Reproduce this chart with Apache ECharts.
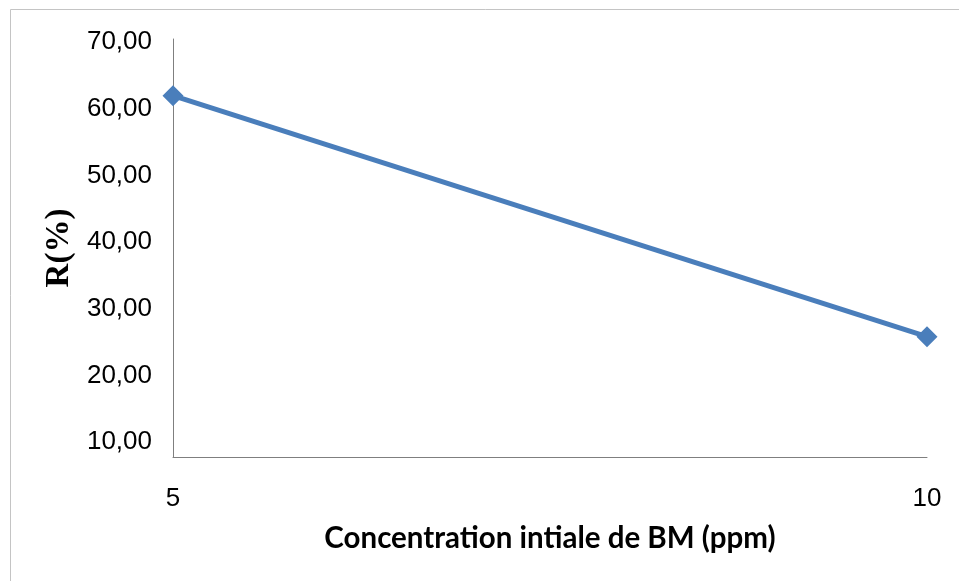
<!DOCTYPE html>
<html>
<head>
<meta charset="utf-8">
<title>R(%) vs Concentration initiale de BM</title>
<script src="https://cdn.jsdelivr.net/npm/echarts@6/dist/echarts.min.js"></script>
<style>
  html, body { margin: 0; padding: 0; background: #ffffff; }
  #chart { width: 959px; height: 581px; }
</style>
</head>
<body>
<div id="chart"></div>
<script>
// Initial concentration of BM (ppm)
const concentrations = ['5', '10'];
// Removal yield R (%)
const removal = [61.95, 25.8];
// Vertical tick labels
const yTicks = [10, 20, 30, 40, 50, 60, 70];
// Vertical axis range (horizontal axis crosses slightly below 10)
const yMin = 7.75;
const yMax = 70.45;

const chart = echarts.init(document.getElementById('chart'), null, { renderer: 'canvas' });

const fmt = v => v.toFixed(2).replace('.', ',');

chart.setOption({
  backgroundColor: '#ffffff',
  animation: false,
  graphic: [{
    type: 'rect',
    silent: true,
    shape: { x: 10.5, y: 9.5, width: 1200, height: 800 },
    style: { fill: 'none', stroke: '#c4c4c4', lineWidth: 1 }
  }],
  grid: { left: 173, right: 32, top: 39, bottom: 124 },
  xAxis: {
    type: 'category',
    data: concentrations,
    boundaryGap: false,
    name: 'Concentration intiale de BM (ppm)',
    nameLocation: 'middle',
    nameGap: 66,
    nameTextStyle: { fontFamily: 'Lato', fontWeight: 'bold', fontSize: 29.5, color: '#000000' },
    axisLine: { lineStyle: { color: '#7f7f7f', width: 1 } },
    axisTick: { show: false },
    axisLabel: { fontFamily: 'Liberation Sans', fontSize: 26, color: '#000000', margin: 29 },
    splitLine: { show: false }
  },
  yAxis: {
    type: 'value',
    min: yMin,
    max: yMax,
    name: 'R(%)',
    nameLocation: 'middle',
    nameGap: 95,
    nameTextStyle: { fontFamily: 'Liberation Serif', fontWeight: 'bold', fontSize: 33, color: '#000000' },
    axisLine: { show: true, lineStyle: { color: '#7f7f7f', width: 1 } },
    axisTick: { show: false },
    splitLine: { show: false },
    axisLabel: {
      customValues: yTicks,
      formatter: fmt,
      fontFamily: 'Liberation Sans',
      fontSize: 26,
      color: '#000000',
      margin: 21
    }
  },
  series: [{
    type: 'line',
    data: removal,
    symbol: 'diamond',
    symbolSize: 21,
    lineStyle: { color: '#4a7ebb', width: 5 },
    itemStyle: { color: '#4a7ebb' },
    z: 3
  }]
});
</script>
</body>
</html>
